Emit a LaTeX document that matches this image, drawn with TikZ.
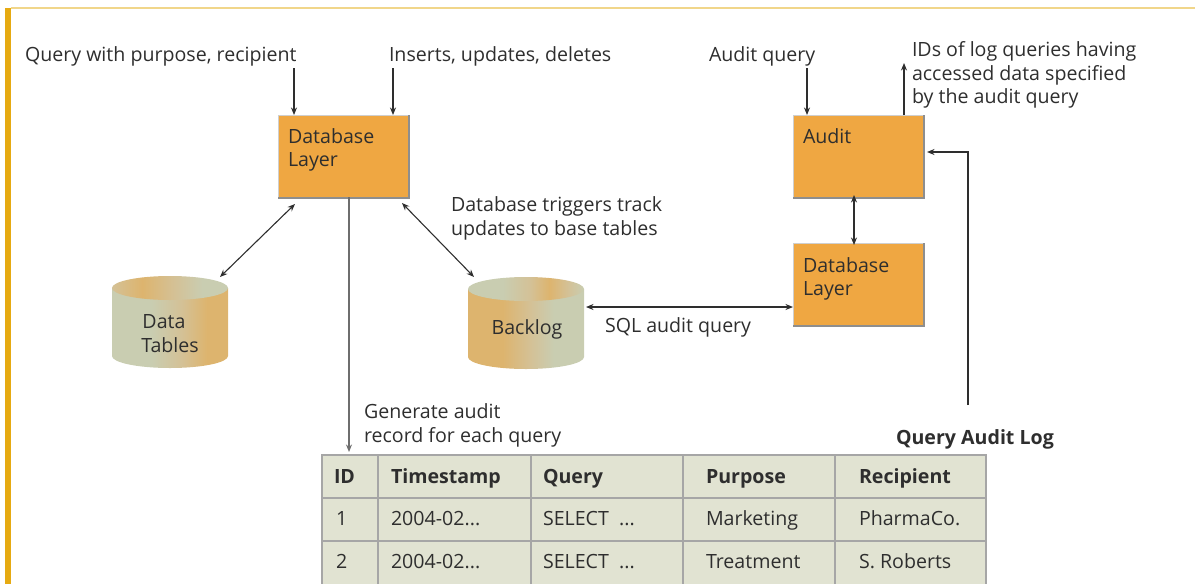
\documentclass[tikz,border=0pt]{standalone}
\usepackage{fontspec}
\setmainfont{Open Sans}
\usetikzlibrary{arrows.meta}

\definecolor{boxfill}{HTML}{EFA742}
\definecolor{boxedge}{HTML}{CFCFCF}
\definecolor{boxshadow}{HTML}{8E8E8E}
\definecolor{ink}{HTML}{2E2E2E}
\definecolor{stem}{HTML}{6E6E6E}
\definecolor{tabfill}{HTML}{E1E3D2}
\definecolor{tabline}{HTML}{A6A6A6}
\definecolor{cylg}{HTML}{C9CDB1}
\definecolor{cylm}{HTML}{D4C196}
\definecolor{cylt}{HTML}{DDB46E}
\definecolor{goldbar}{HTML}{E6AA12}
\definecolor{goldline}{HTML}{F1D68A}

% cylinder shadings (the 25bp--75bp band spans the filled path)
\pgfdeclarehorizontalshading{dtbody}{100bp}{color(0bp)=(cylg); color(25bp)=(cylg); color(42bp)=(cylg); color(55bp)=(cylm); color(66bp)=(cylt); color(75bp)=(cylt); color(100bp)=(cylt)}
\pgfdeclarehorizontalshading{dttop}{100bp}{color(0bp)=(cylm); color(25bp)=(cylm); color(38bp)=(cylt); color(52bp)=(cylm); color(64bp)=(cylg); color(75bp)=(cylg); color(100bp)=(cylg)}
\pgfdeclarehorizontalshading{blbody}{100bp}{color(0bp)=(cylt); color(25bp)=(cylt); color(40bp)=(cylt); color(52bp)=(cylm); color(62bp)=(cylg); color(75bp)=(cylg); color(100bp)=(cylg)}
\pgfdeclarehorizontalshading{bltop}{100bp}{color(0bp)=(cylg); color(25bp)=(cylg); color(40bp)=(cylg); color(52bp)=(cylm); color(60bp)=(cylt); color(68bp)=(cylm); color(75bp)=(cylg); color(100bp)=(cylg)}

\newcommand{\cylinderat}[5]{% cx, top-centre y, bottom-centre y, body shading, top shading
  \shade[shading=#4] (#1-58,#2) -- (#1-58,#3)
    arc[start angle=180,end angle=360,x radius=58pt,y radius=12pt] -- (#1+58,#2) -- cycle;
  \shade[shading=#5] (#1,#2) ellipse[x radius=58pt,y radius=12pt];
}

\begin{document}
\begin{tikzpicture}[x=1pt,y=-1pt,
  every node/.style={inner sep=0pt,outer sep=0pt,text=ink,font=\fontsize{19.6}{23}\selectfont},
  txt/.style={anchor=base west},
  hdr/.style={anchor=base west,font=\fontsize{19.6}{23}\selectfont\bfseries},
  box/.style={fill=boxfill,draw=boxedge,line width=0.8pt,minimum width=130pt,minimum height=82pt},
  arr/.style={draw=ink,line width=1.1pt,-{Stealth[length=7.5pt,width=6pt]}},
  darr/.style={draw=ink,line width=1.1pt,{Stealth[length=7.5pt,width=6pt]}-{Stealth[length=7.5pt,width=6pt]}},
  grid/.style={draw=tabline,line width=2pt}]
\useasboundingbox (0,0) rectangle (1195,584);

% page frame
\fill[goldbar] (5,7.5) rectangle (10.5,584);
\draw[goldline,line width=2pt] (10.5,8) -- (1195,8);

% processing boxes
\node[box] (dbl) at (343,156) {};
\node[box] (audit) at (858,156) {};
\node[box] (dbr) at (858,284) {};
\foreach \b in {dbl,audit,dbr}{
  \draw[boxshadow,line width=1.6pt] ([xshift=0.8pt]\b.north east) -- ([xshift=0.8pt,yshift=-0.8pt]\b.south east) -- ([yshift=-0.8pt]\b.south west);
}
\node[txt] (dbl1) at (288,143) {Database};
\node[txt] (dbl2) at (288,166) {Layer};
\node[txt] (audit1) at (803,143) {Audit};
\node[txt] (dbr1) at (803,272) {Database};
\node[txt] (dbr2) at (803,295) {Layer};

% storage cylinders
\cylinderat{170}{288}{356}{dtbody}{dttop}
\cylinderat{526}{289}{357}{blbody}{bltop}
\node[anchor=base] (dt1) at (164,328) {Data};
\node[anchor=base] (dt2) at (170,352) {Tables};
\node[anchor=base] (bl1) at (527,334) {Backlog};
\coordinate (dttop) at (220,277);
\coordinate (bltop) at (474,277);
\coordinate (blside) at (586,307);

% annotations
\node[txt] (qin) at (25,61) {Query with purpose, recipient};
\node[txt] (ins) at (389,61) {Inserts, updates, deletes};
\node[txt] (aq) at (709,61) {Audit query};
\node[txt] (ids1) at (912,56) {IDs of log queries having};
\node[txt] (ids2) at (912,80) {accessed data specified};
\node[txt] (ids3) at (912,103) {by the audit query};
\node[txt] (trg1) at (451,211) {Database triggers track};
\node[txt] (trg2) at (451,235) {updates to base tables};
\node[txt] (sql) at (605,332) {SQL audit query};
\node[txt] (gen1) at (364,418) {Generate audit};
\node[txt] (gen2) at (364,442) {record for each query};
\node[hdr] (qal) at (896,444) {Query Audit Log};

% query audit log table
\fill[tabfill] (322,455) rectangle (986,590);
\foreach \x in {322,378,531,683,835,986} \draw[grid] (\x,455) -- (\x,590);
\foreach \y in {455,498,541} \draw[grid] (321,\y) -- (987,\y);
\node[hdr] (hid) at (334,483) {ID};
\node[hdr] (hts) at (391,483) {Timestamp};
\node[hdr] (hq) at (543,483) {Query};
\node[hdr] (hp) at (706,483) {Purpose};
\node[hdr] (hr) at (859,483) {Recipient};
\node[txt] (r1a) at (336,525) {1};
\node[txt] (r1b) at (391,525) {2004-02...};
\node[txt] (r1c) at (543,525) {SELECT \ ...};
\node[txt] (r1d) at (706,525) {Marketing};
\node[txt] (r1e) at (859,525) {PharmaCo.};
\node[txt] (r2a) at (336,568) {2};
\node[txt] (r2b) at (391,568) {2004-02...};
\node[txt] (r2c) at (543,568) {SELECT \ ...};
\node[txt] (r2d) at (706,568) {Treatment};
\node[txt] (r2e) at (859,568) {S. Roberts};
\coordinate (tabtop) at (349,452);
\coordinate (logtop) at (968,405);

% connectors
\coordinate (qinend) at (294,68);
\coordinate (insend) at (393,68);
\coordinate (aqend) at (807,68);
\coordinate (idstip) at (904,63);
\coordinate (dblsw) at (295,204);
\coordinate (dblse) at (402,203);
\draw[arr] (qinend) -- (qinend |- dbl.north);
\draw[arr] (insend) -- (insend |- dbl.north);
\draw[arr] (aqend) -- (aqend |- audit.north);
\draw[arr] (idstip |- audit.north) -- (idstip);
\draw[darr] (dblsw) -- (dttop);
\draw[darr] (dblse) -- (bltop);
\draw[arr,draw=stem,line width=1.4pt] (dbl.south -| tabtop) -- (tabtop);
\draw[darr] (blside) -- (blside -| dbr.west);
\draw[darr] ([yshift=2pt]audit.south -| 854,0) -- ([yshift=-2pt]dbr.north -| 854,0);
\draw[arr] (logtop) |- ([yshift=4pt,xshift=4pt]audit.east);
\end{tikzpicture}
\end{document}
